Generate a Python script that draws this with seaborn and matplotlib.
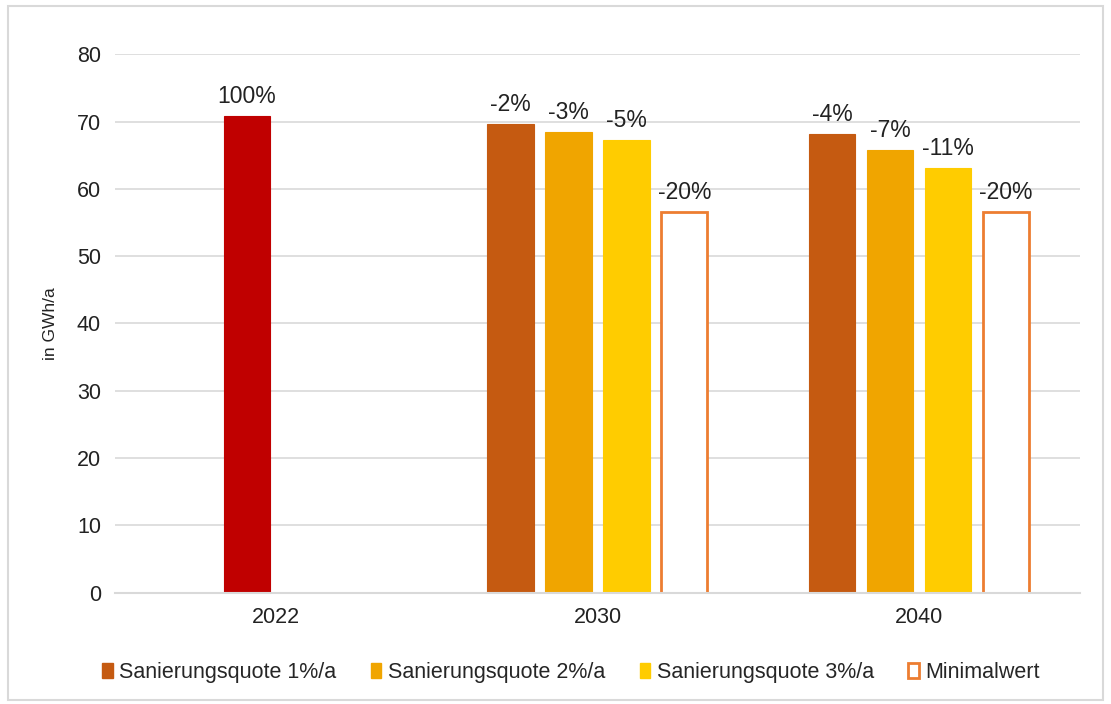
import numpy as np
import pandas as pd
import matplotlib.pyplot as plt
import seaborn as sns
from matplotlib.patches import Patch, Rectangle

# data
years = ['2022', '2030', '2040']
series = ['Ist 2022', 'Sanierungsquote 1%/a', 'Sanierungsquote 2%/a',
          'Sanierungsquote 3%/a', 'Minimalwert']
slot = ['s0', 's1', 's2', 's3']
vals_2022 = [70.8]
vals_1 = [69.6, 68.2]
vals_2 = [68.4, 65.8]
vals_3 = [67.3, 63.1]
vals_min = [56.6, 56.6]
labels_2022 = ['100%']
labels_1 = ['-2%', '-4%']
labels_2 = ['-3%', '-7%']
labels_3 = ['-5%', '-11%']
labels_min = ['-20%', '-20%']

c_2022 = '#C00000'
c1, c2, c3 = '#C55A11', '#F0A500', '#FFCC00'
c_min = '#ED7D31'

rows = []
# 2022 value sits in the second slot of its group
rows.append(('2022', 's1', vals_2022[0], labels_2022[0], c_2022, c_2022, False))
for i, y in enumerate(['2030', '2040']):
    rows.append((y, 's0', vals_1[i], labels_1[i], c1, c1, False))
    rows.append((y, 's1', vals_2[i], labels_2[i], c2, c2, False))
    rows.append((y, 's2', vals_3[i], labels_3[i], c3, c3, False))
    rows.append((y, 's3', vals_min[i], labels_min[i], 'white', c_min, True))
df = pd.DataFrame(rows, columns=['year', 'slot', 'value', 'label', 'face', 'edge', 'hollow'])

sns.set_style('white')
plt.rcParams['font.family'] = ['Liberation Sans', 'DejaVu Sans']

fig = plt.figure(figsize=(11.11, 7.04), dpi=100)
ax = fig.add_axes([0.1035, 0.158, 0.8685, 0.765])

sns.barplot(data=df, x='year', y='value', hue='slot', order=years, hue_order=slot,
            width=0.72, gap=0.2, ax=ax, legend=False, errorbar=None)

# recolour each bar from its row (match by x position)
for cont, s in zip(ax.containers, slot):
    sub = df[df['slot'] == s].set_index('year')
    for bar in cont:
        if np.isnan(bar.get_height()):
            continue
        xc = bar.get_x() + bar.get_width() / 2
        y = years[int(round(xc))]
        if y not in sub.index:
            continue
        r = sub.loc[y]
        bar.set_facecolor(r['face'])
        bar.set_edgecolor(r['edge'])
        bar.set_linewidth(2 if r['hollow'] else 0.8)
        ax.text(xc, bar.get_height() + 1.2, r['label'],
                ha='center', va='bottom', fontsize=16.5, color='#222222')

ax.set_ylim(0, 80)
ax.set_yticks(range(0, 81, 10))
ax.set_xlabel('')
ax.set_ylabel('in GWh/a', fontsize=12.5, color='#222222', labelpad=14)
ax.tick_params(axis='both', labelsize=15.5, colors='#222222', length=0, pad=10)
ax.yaxis.grid(True, color='#D9D9D9', linewidth=1.2)
ax.set_axisbelow(True)
for s in ['top', 'right', 'left']:
    ax.spines[s].set_visible(False)
ax.spines['bottom'].set_color('#D9D9D9')
ax.spines['bottom'].set_linewidth(1.5)

handles = [Patch(facecolor=c1, edgecolor=c1), Patch(facecolor=c2, edgecolor=c2),
           Patch(facecolor=c3, edgecolor=c3), Patch(facecolor='white', edgecolor=c_min, linewidth=2)]
fig.legend(handles, series[1:], loc='center', bbox_to_anchor=(0.514, 0.045), ncol=4,
           frameon=False, fontsize=15.5, handlelength=0.5, handleheight=0.7,
           handletextpad=0.3, columnspacing=1.6)

fig.patches.append(Rectangle((0.007, 0.006), 0.986, 0.986, transform=fig.transFigure,
                             fill=False, edgecolor='#D9D9D9', linewidth=1.5))

fig.savefig('out.png', dpi=100)
